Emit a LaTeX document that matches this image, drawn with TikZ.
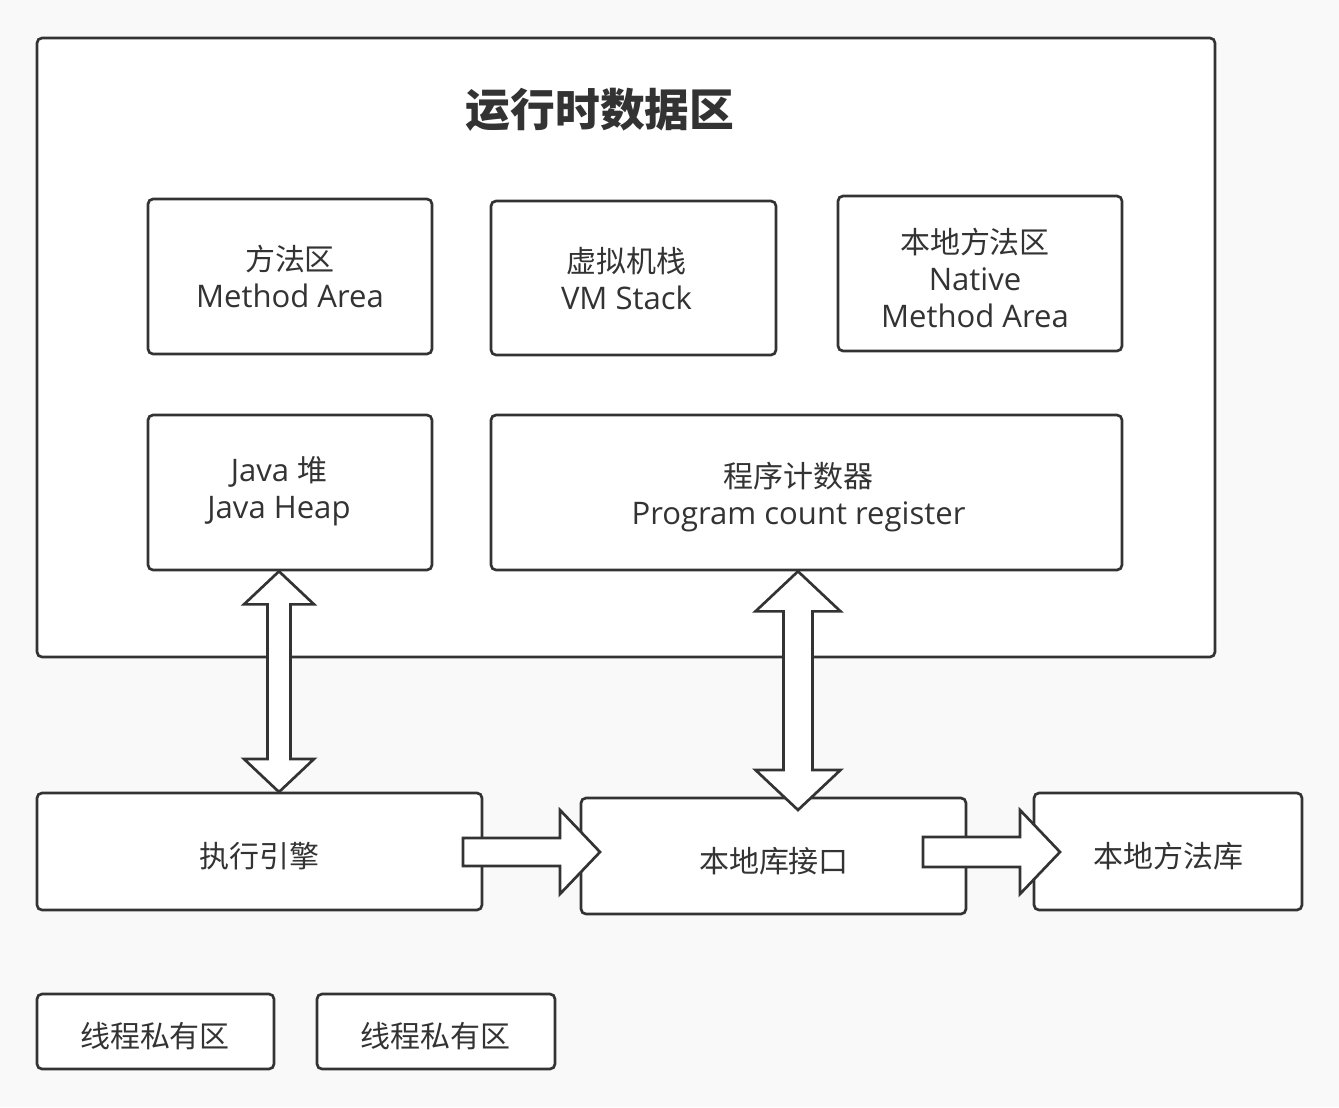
\documentclass[tikz,border=0pt]{standalone}
\usepackage{fontspec}
\setmainfont{Open Sans}
\newfontfamily\cjk[Scale=0.965]{Noto Sans CJK SC}
\usetikzlibrary{calc}
\definecolor{ink}{HTML}{333333}
\definecolor{bg}{HTML}{F9F9F9}
\newcommand{\vdarrow}[5]{% top, bottom, half shaft, half head, head length
  \draw[blockarrow] (#1) -- ++(#4,#5) -- ++({-(#4-#3)},0) -- ($(#2)+(#3,-#5)$)
    -- ++({#4-#3},0) -- (#2) -- ++(-#4,-#5) -- ++({#4-#3},0)
    -- ($(#1)+(-#3,#5)$) -- ++({-(#4-#3)},0) -- cycle;}
\newcommand{\hbarrow}[5]{% start, tip, half shaft, half head, head length
  \draw[blockarrow] ($(#1)+(0,-#3)$) -- ($(#2)+(-#5,-#3)$) -- ++(0,{-(#4-#3)})
    -- (#2) -- ++(-#5,#4) -- ++(0,{-(#4-#3)}) -- ($(#1)+(0,#3)$) -- cycle;}
\begin{document}
\begin{tikzpicture}[x=0.75pt,y=-0.75pt,
  box/.style={draw=ink, line width=2pt, rounded corners=3.75pt, fill=white, inner sep=0pt},
  size/.style 2 args={minimum width=#1*0.75pt, minimum height=#2*0.75pt},
  txt/.style={text=ink, align=center, inner sep=0pt, font=\fontsize{23.3}{27.75}\selectfont},
  blockarrow/.style={draw=ink, line width=2pt, fill=white, line join=miter}]
\fill[bg] (0,0) rectangle (1339,1107);
\useasboundingbox (0,0) rectangle (1339,1107);
% runtime data area
\node[box, size={1178}{619}] (rt) at (626,347.5) {};
\node[text=ink, inner sep=0pt, font=\cjk\bfseries\fontsize{34.8}{40}\selectfont] (title) at (600,110) {运行时数据区};
% inner boxes
\node[box, size={284}{155}] (ma) at (290,276.5) {};
\node[txt] (maT) at (290,276) {{\cjk 方法区}\\Method Area};
\node[box, size={285}{154}] (vm) at (633.5,278) {};
\node[txt] (vmT) at (626.5,279) {{\cjk 虚拟机栈}\\VM Stack};
\node[box, size={284}{155}] (nm) at (980,273.5) {};
\node[txt] (nmT) at (975,278) {{\cjk 本地方法区}\\Native\\Method Area};
\node[box, size={284}{155}] (heap) at (290,492.5) {};
\node[txt] (heapT) at (279,491) {Java {\cjk 堆}\\Java Heap};
\node[box, size={631}{155}] (pc) at (806.5,492.5) {};
\node[txt] (pcT) at (798.5,497) {{\cjk 程序计数器}\\Program count register};
% bottom row
\node[box, size={445}{117}] (ex) at (259.5,851.5) {};
\node[txt, font=\cjk\fontsize{23.3}{27.75}\selectfont] (exT) at (259.5,856) {执行引擎};
\node[box, size={385}{116}] (ni) at (773.5,856) {};
\node[txt, font=\cjk\fontsize{23.3}{27.75}\selectfont] (niT) at (774,861) {本地库接口};
\node[box, size={268}{117}] (nl) at (1168,851.5) {};
\node[txt, font=\cjk\fontsize{23.3}{27.75}\selectfont] (nlT) at (1168.5,856) {本地方法库};
% legend
\node[box, size={237}{75}] (p1) at (155.5,1031.5) {};
\node[txt, font=\cjk\fontsize{23.3}{27.75}\selectfont] (p1T) at (155,1036) {线程私有区};
\node[box, size={238}{75}] (p2) at (436,1031.5) {};
\node[txt, font=\cjk\fontsize{23.3}{27.75}\selectfont] (p2T) at (435.5,1036) {线程私有区};
% arrows
\coordinate (a1t) at (heap.south -| 279,0);
\coordinate (a1b) at (279,792);
\vdarrow{a1t}{a1b}{11.5}{35}{33}
\coordinate (a2t) at (pc.south -| 798,0);
\coordinate (a2b) at (798,810);
\vdarrow{a2t}{a2b}{14.5}{42.5}{40}
\coordinate (h1s) at (463,852);
\coordinate (h1t) at (600,852);
\hbarrow{h1s}{h1t}{14}{42}{40}
\coordinate (h2s) at (923,852);
\coordinate (h2t) at (1060,852);
\hbarrow{h2s}{h2t}{15}{42}{40}
\end{tikzpicture}
\end{document}
